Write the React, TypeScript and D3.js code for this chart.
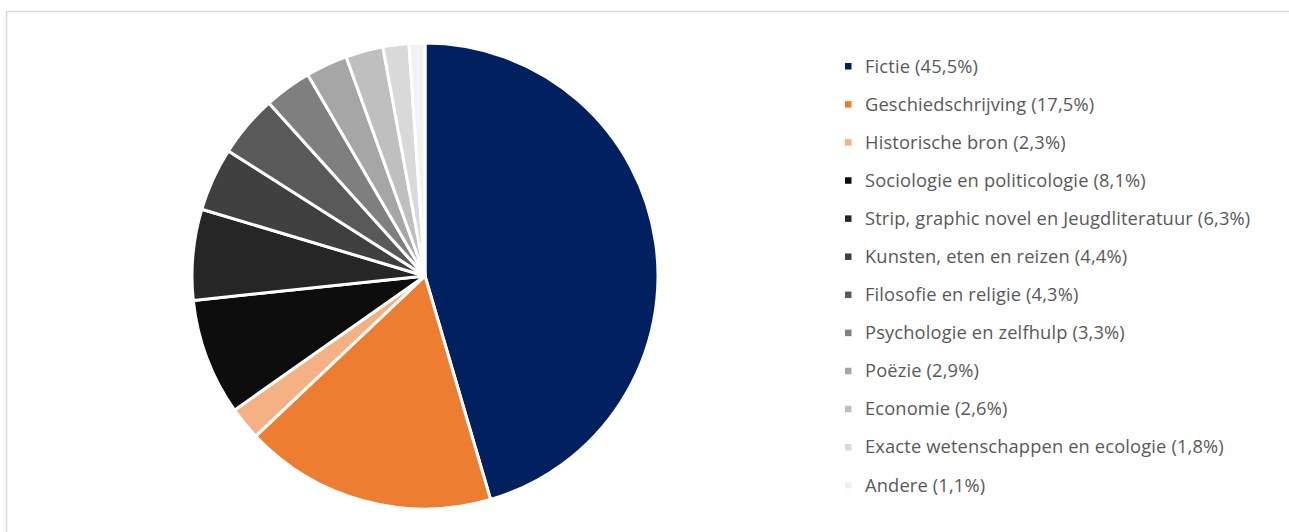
import React from "react";
import * as d3 from "d3";

const categories = [
  "Fictie",
  "Geschiedschrijving",
  "Historische bron",
  "Sociologie en politicologie",
  "Strip, graphic novel en Jeugdliteratuur",
  "Kunsten, eten en reizen",
  "Filosofie en religie",
  "Psychologie en zelfhulp",
  "Poëzie",
  "Economie",
  "Exacte wetenschappen en ecologie",
  "Andere",
];
const values = [45.5, 17.5, 2.3, 8.1, 6.3, 4.4, 4.3, 3.3, 2.9, 2.6, 1.8, 1.1];
const labels = ["45,5%", "17,5%", "2,3%", "8,1%", "6,3%", "4,4%", "4,3%", "3,3%", "2,9%", "2,6%", "1,8%", "1,1%"];
const colors = [
  "#002060", "#ED7D31", "#F4B183", "#0D0D0D", "#262626", "#404040",
  "#595959", "#7F7F7F", "#A6A6A6", "#BFBFBF", "#D9D9D9", "#F2F2F2",
];

const W = 1289;
const H = 532;

export default function App() {
  const cx = 425;
  const cy = 276;
  const r = 233;
  const data = values.map((v, i) => ({ v, i }));
  const pie = d3.pie<{ v: number; i: number }>().value((d) => d.v).sort(null);
  const arc = d3.arc<d3.PieArcDatum<{ v: number; i: number }>>().innerRadius(0).outerRadius(r);
  const arcs = pie(data);
  const legendY = d3.scalePoint<number>().domain(d3.range(categories.length)).range([66, 485]);

  return (
    <svg
      width={W}
      height={H}
      style={{ position: "absolute", left: 0, top: 0, background: "#fff" }}
    >
      <rect x={6.5} y={11.5} width={1400} height={700} fill="#fff" stroke="#d9d9d9" strokeWidth={1.5} />
      <g transform={`translate(${cx},${cy})`}>
        {arcs.map((a) => (
          <path key={a.data.i} d={arc(a) || ""} fill={colors[a.data.i]} stroke="#fff" strokeWidth={3} strokeLinejoin="round" />
        ))}
      </g>
      <g>
        {categories.map((c, i) => {
          const y = legendY(i)!;
          return (
            <g key={c}>
              <rect x={845} y={y - 3} width={6.5} height={6.5} fill={colors[i]} />
              <text
                x={865}
                y={y}
                dy="0.36em"
                fontFamily="'Open Sans', sans-serif"
                fontSize={18.3}
                letterSpacing={0.15}
                fill="#595959"
              >
                {`${c} (${labels[i]})`}
              </text>
            </g>
          );
        })}
      </g>
    </svg>
  );
}
